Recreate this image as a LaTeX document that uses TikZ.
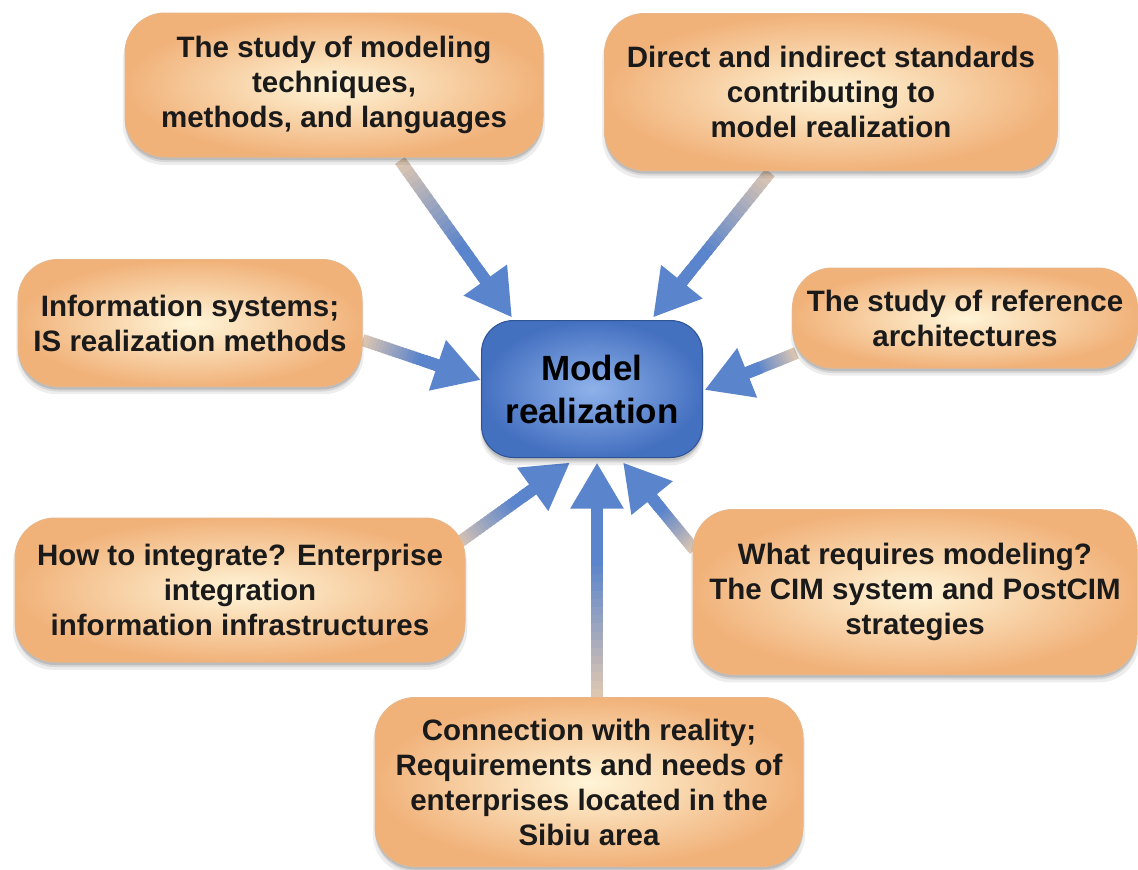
\documentclass[tikz,border=0pt]{standalone}
\usepackage{fontspec}
\setmainfont{Liberation Sans}
\usetikzlibrary{arrows.meta,calc,shadows,backgrounds}
\pgfdeclarelayer{bottom}
\pgfsetlayers{bottom,background,main}
\definecolor{orin}{HTML}{FFF5D8}
\definecolor{orout}{HTML}{F1B27A}
\definecolor{oredge}{HTML}{E8B687}
\definecolor{blin}{HTML}{8FB2EA}
\definecolor{blout}{HTML}{4470C0}
\definecolor{bledge}{HTML}{2C5394}
\definecolor{tailc}{HTML}{DCC6B2}
\definecolor{headc}{HTML}{5A84CC}
\definecolor{txt}{HTML}{1A1A1A}
\tikzset{
  softshadow/.style={
    drop shadow={shadow xshift=0pt, shadow yshift=-7pt, opacity=0.07, fill=black, shadow scale=1.01},
    drop shadow={shadow xshift=0pt, shadow yshift=-5pt, opacity=0.09, fill=black},
    drop shadow={shadow xshift=0pt, shadow yshift=-3pt, opacity=0.12, fill=black}},
  topic/.style={rounded corners=40pt, inner color=orin, outer color=orout,
    draw=oredge, line width=1pt, align=center, text=txt,
    font=\fontsize{29.5}{35}\selectfont\bfseries, softshadow},
  hub/.style={rounded corners=32pt, inner color=blin, outer color=blout,
    draw=bledge, line width=1pt, align=center, text=black,
    font=\fontsize{35}{43}\selectfont\bfseries, softshadow},
  headtip/.style={-{Triangle[length=46pt,width=50pt]}, line width=12pt, draw=headc}
}
\newcommand\gradarrow[2]{%
  \path ($(#2)!38pt!(#1)$) coordinate (gb);
  \foreach \i in {0,...,23}{%
    \pgfmathsetmacro\fa{\i/24}%
    \pgfmathsetmacro\fb{(\i+1.4)/24}%
    \pgfmathsetmacro\pc{min(100,\i*100/16)}%
    \draw[line width=12pt, color=headc!\pc!tailc] ($(#1)!\fa!(gb)$) -- ($(#1)!\fb!(gb)$);
  }
  \draw[headtip] ($(#2)!60pt!(#1)$) -- (#2);
}
\begin{document}
\begin{tikzpicture}[x=1pt,y=1pt]
\useasboundingbox (0,0) rectangle (1138,-870);
\begin{pgfonlayer}{bottom}
\fill[white] (0,0) rectangle (1138,-870);
\end{pgfonlayer}

\node[topic, minimum width=418pt, minimum height=144pt] (n1) at (334,-85)
  {The study of modeling\\techniques,\\methods, and languages};
\node[topic, minimum width=453pt, minimum height=157pt] (n2) at (831,-92)
  {Direct and indirect standards\\contributing to\\model realization};
\node[topic, minimum width=344pt, minimum height=127pt] (n3) at (190,-323)
  {Information systems;\\IS realization methods};
\node[topic, minimum width=345pt, minimum height=100pt] (n4) at (965,-318)
  {The study of reference\\architectures};
\node[topic, minimum width=450pt, minimum height=144pt] (n5) at (240,-590)
  {How to integrate? Enterprise\\integration\\information infrastructures};
\node[topic, minimum width=444pt, minimum height=165pt] (n6) at (915,-592)
  {What requires modeling?\\The CIM system and PostCIM\\strategies};
\node[topic, minimum width=428pt, minimum height=169pt] (n7) at (589,-782)
  {Connection with reality;\\Requirements and needs of\\enterprises located in the\\Sibiu area};
\node[hub, minimum width=221pt, minimum height=137pt] (hub) at (592,-389)
  {Model\\realization};

\coordinate (t1) at ($(n1.south)+(66,-3)$);
\coordinate (p1) at ($(hub.north)+(-80,2.5)$);
\coordinate (t2) at ($(n2.south)+(-61,-1.5)$);
\coordinate (p2) at ($(hub.north)+(61,2.5)$);
\coordinate (t3) at ($(n3.east)+(0,-17)$);
\coordinate (p3) at ($(hub.west)+(0,9)$);
\coordinate (t4) at ($(n4.west)+(4.5,-35)$);
\coordinate (p4) at ($(hub.east)+(1.5,-1)$);
\coordinate (t5) at ($(n5.east)+(-10,45)$);
\coordinate (p5) at ($(hub.south)+(-22,-4.5)$);
\coordinate (t6) at ($(n7.north)+(8,0)$);
\coordinate (p6) at ($(hub.south)+(5,-4.5)$);
\coordinate (t7) at ($(n6.west)+(2,42)$);
\coordinate (p7) at ($(hub.south)+(31,-4.5)$);

\begin{scope}[on background layer]
\gradarrow{t1}{p1}
\gradarrow{t2}{p2}
\gradarrow{t3}{p3}
\gradarrow{t4}{p4}
\gradarrow{t5}{p5}
\gradarrow{t6}{p6}
\gradarrow{t7}{p7}
\end{scope}
\end{tikzpicture}
\end{document}
